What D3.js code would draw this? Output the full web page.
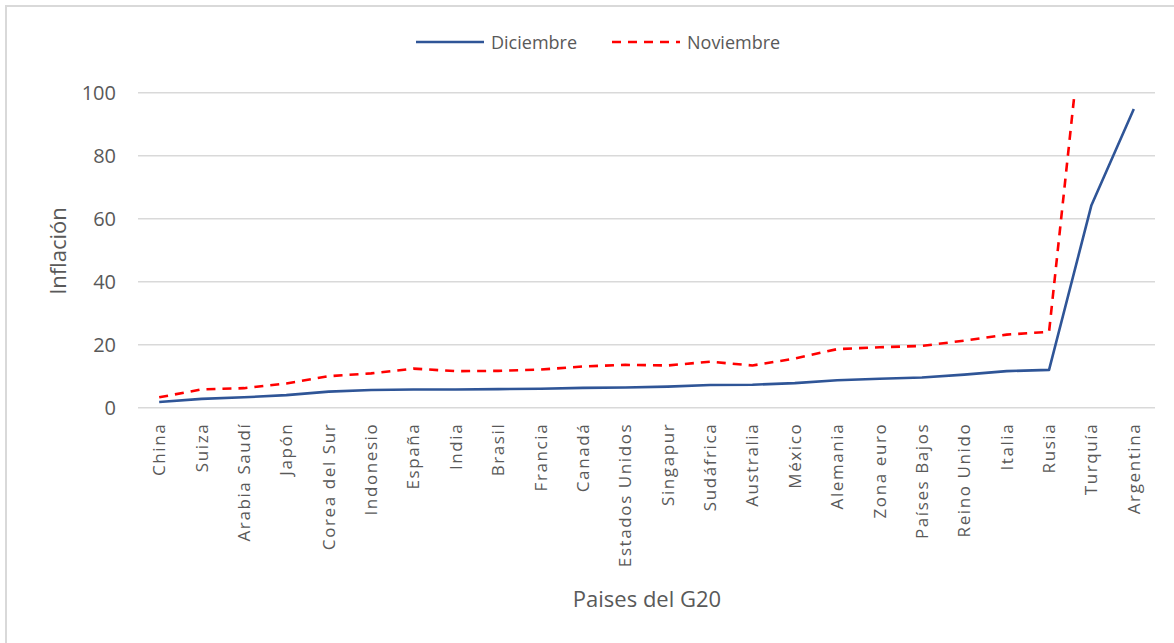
<!DOCTYPE html>
<html><head><meta charset="utf-8">
<script src="https://cdn.jsdelivr.net/npm/d3@7"></script>
<style>body{margin:0;background:#fff}svg{display:block}text{font-family:"Open Sans",sans-serif;fill:#595959}</style>
</head><body>
<svg id="c" width="1174" height="643"></svg>
<script>
const categories = ["China","Suiza","Arabia Saudí","Japón","Corea del Sur","Indonesio","España","India","Brasil","Francia","Canadá","Estados Unidos","Singapur","Sudáfrica","Australia","México","Alemania","Zona euro","Países Bajos","Reino Unido","Italia","Rusia","Turquía","Argentina"];
const diciembre = [1.8,2.8,3.3,4.0,5.1,5.6,5.8,5.8,5.9,6.0,6.3,6.4,6.7,7.2,7.3,7.8,8.7,9.2,9.6,10.5,11.6,12.0,64.3,94.8];
const noviembre = [3.3,5.8,6.2,7.7,10.0,10.9,12.4,11.6,11.7,12.1,13.1,13.6,13.4,14.6,13.4,15.6,18.6,19.2,19.6,21.3,23.2,24.1,150,null];
const yTicks = [0,20,40,60,80,100];

const svg = d3.select("#c");
const W = 1174, H = 643;
const m = {left:138, right:1155, top:92.7, bottom:407.7};

svg.append("rect").attr("x",6).attr("y",6).attr("width",W+10).attr("height",H+10)
  .attr("fill","none").attr("stroke","#d9d9d9").attr("stroke-width",2);

const x = d3.scaleBand().domain(categories).range([m.left,m.right]);
const y = d3.scaleLinear().domain([0,100]).range([m.bottom,m.top]);

svg.append("g").selectAll("line").data(yTicks).join("line")
  .attr("x1",m.left).attr("x2",m.right).attr("y1",d=>y(d)).attr("y2",d=>y(d))
  .attr("stroke","#d9d9d9").attr("stroke-width",1.5);

const yAxis = svg.append("g").attr("transform",`translate(${m.left},0)`)
  .call(d3.axisLeft(y).tickValues(yTicks).tickSize(0).tickPadding(22));
yAxis.select(".domain").remove();
yAxis.selectAll("text").style("font-size","20px").attr("fill","#595959").style("font-family","'Open Sans',sans-serif");

const xAxis = svg.append("g").attr("transform",`translate(0,${m.bottom})`)
  .call(d3.axisBottom(x).tickSize(0).tickPadding(0));
xAxis.select(".domain").remove();
xAxis.selectAll("text")
  .attr("transform","rotate(-90)")
  .attr("x",-15).attr("y",0).attr("dy","0.35em")
  .style("text-anchor","end").style("font-size","17px").style("letter-spacing","1.6px")
  .attr("fill","#595959").style("font-family","'Open Sans',sans-serif");

svg.append("clipPath").attr("id","pa").append("rect")
  .attr("x",m.left).attr("y",m.top+4).attr("width",m.right-m.left).attr("height",m.bottom-m.top);

const cx = d => x(d)+x.bandwidth()/2;
const lineGen = vals => d3.line().defined(d=>d[1]!=null)
  .x(d=>cx(d[0])).y(d=>y(d[1]))(categories.map((c,i)=>[c,vals[i]]));

svg.append("path").attr("clip-path","url(#pa)").attr("d",lineGen(noviembre))
  .attr("fill","none").attr("stroke","#ff0000").attr("stroke-width",2.6).attr("stroke-dasharray","9,7")
  .attr("stroke-linejoin","round");
svg.append("path").attr("clip-path","url(#pa)").attr("d",lineGen(diciembre))
  .attr("fill","none").attr("stroke","#2f5597").attr("stroke-width",2.6).attr("stroke-linejoin","round");

const lg = svg.append("g");
lg.append("line").attr("x1",416).attr("x2",484).attr("y1",42).attr("y2",42).attr("stroke","#2f5597").attr("stroke-width",2.6);
lg.append("text").attr("x",491).attr("y",49).style("font-size","18px").text("Diciembre");
lg.append("line").attr("x1",612).attr("x2",680).attr("y1",42).attr("y2",42).attr("stroke","#ff0000").attr("stroke-width",2.6).attr("stroke-dasharray","9,7");
lg.append("text").attr("x",687).attr("y",49).style("font-size","18px").text("Noviembre");

svg.append("text").attr("transform","translate(66,251) rotate(-90)").attr("text-anchor","middle")
  .style("font-size","22px").text("Inflación");
svg.append("text").attr("x",647).attr("y",607).attr("text-anchor","middle")
  .style("font-size","22px").text("Paises del G20");
</script>
</body></html>
